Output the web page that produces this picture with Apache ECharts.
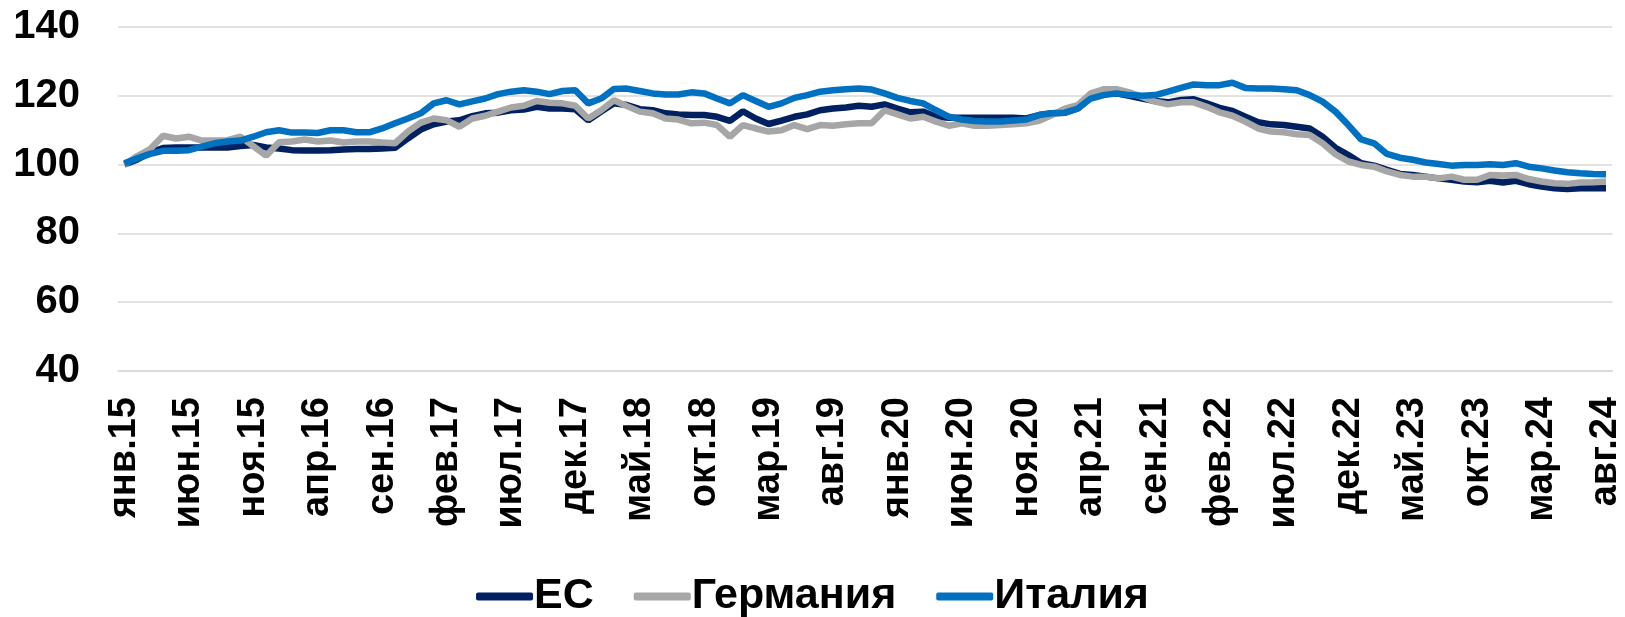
<!DOCTYPE html>
<html>
<head>
<meta charset="utf-8">
<script src="https://cdn.jsdelivr.net/npm/echarts@6/dist/echarts.min.js"></script>
<style>
  html, body { margin: 0; padding: 0; background: #fff; }
  #chart { width: 1625px; height: 617px; }
</style>
</head>
<body>
<div id="chart"></div>
<script>
// месяцы янв.15 - авг.24
const monthNames = ['янв', 'фев', 'мар', 'апр', 'май', 'июн', 'июл', 'авг', 'сен', 'окт', 'ноя', 'дек'];
const categories = [];
for (let y = 15; y <= 24; y++) {
  for (let m = 0; m < 12; m++) {
    if (y === 24 && m > 7) break;
    categories.push(monthNames[m] + '.' + y);
  }
}

const euData = [
  100, 101.5, 103.5, 104.8, 105, 105, 105, 105, 105, 105.4,
  105.7, 105, 104.7, 104.2, 104.1, 104.1, 104.2, 104.4, 104.5, 104.5,
  104.7, 104.9, 107.6, 110.2, 111.7, 112.5, 112.9, 114.1, 114.9, 115.1,
  115.8, 116, 116.8, 116.3, 116.3, 116.1, 112.9, 115.4, 117.8, 117.3,
  116.1, 115.8, 114.9, 114.6, 114.4, 114.4, 113.9, 112.7, 115.5, 113.4,
  111.8, 112.8, 113.9, 114.6, 115.8, 116.3, 116.6, 117.1, 116.8, 117.5,
  116.3, 115.2, 115.4, 113.9, 113.6, 113.6, 113.6, 113.6, 113.6, 113.6,
  113.4, 114.4, 114.9, 115.1, 116.3, 119.5, 120.5, 120.7, 120, 119.2,
  118.5, 118.1, 118.8, 119, 117.8, 116.5, 115.6, 113.9, 112.3, 111.7,
  111.5, 111, 110.5, 108.1, 104.9, 102.8, 100.4, 99.7, 98.5, 97.3,
  97, 96.5, 96, 95.6, 95.1, 94.9, 95.3, 94.8, 95.3, 94.3,
  93.6, 93.1, 92.9, 93.1, 93.1, 93.1
];

const deData = [
  100, 102.5, 104.5, 108.4, 107.6, 108.1, 107, 107, 107.1, 108.1,
  105.4, 102.6, 106.5, 106.7, 107.3, 106.7, 107, 106.4, 106.7, 106.7,
  106.4, 106.2, 109.6, 112.2, 113.4, 112.9, 111, 113.4, 114.2, 115.4,
  116.6, 117.1, 118.5, 118, 117.8, 117.1, 113.4, 115.8, 118.7, 117,
  115.4, 114.9, 113.4, 113.1, 112, 112.2, 111.5, 108.1, 111.5, 110.5,
  109.6, 110, 111.5, 110.3, 111.5, 111.3, 111.7, 112, 112, 115.8,
  114.6, 113.4, 113.9, 112.5, 111.3, 112, 111.3, 111.3, 111.5, 111.7,
  112, 112.7, 114.4, 116.3, 117.3, 120.7, 121.9, 121.9, 121, 119.7,
  118.3, 117.5, 118.1, 118.1, 116.8, 115.2, 114.2, 112.5, 110.5, 109.6,
  109.4, 108.8, 108.6, 106.2, 103, 100.9, 99.9, 99.4, 98, 97,
  96.5, 96.5, 96, 96.5, 95.6, 95.6, 97, 96.8, 97, 95.8,
  95.1, 94.6, 94.4, 94.8, 94.9, 95.1
];

const itData = [
  100.4, 101.8, 103.1, 104, 104, 104.2, 105.2, 106.2, 106.7, 107,
  108.1, 109.4, 110, 109.3, 109.3, 109.2, 110, 110, 109.4, 109.4,
  110.5, 112, 113.4, 114.9, 117.8, 118.7, 117.5, 118.4, 119.2, 120.5,
  121.2, 121.6, 121.2, 120.5, 121.4, 121.6, 117.8, 119.2, 122, 122.1,
  121.4, 120.7, 120.4, 120.4, 121, 120.7, 119.2, 117.8, 120.2, 118.5,
  116.8, 117.8, 119.4, 120.2, 121.2, 121.6, 121.9, 122.1, 121.8, 120.7,
  119.4, 118.5, 117.8, 115.8, 113.9, 113.1, 112.7, 112.5, 112.5, 112.8,
  113.1, 114.4, 114.9, 115.1, 116.3, 119.2, 120.2, 120.7, 120.2, 120,
  120.2, 121.2, 122.3, 123.3, 123.1, 123.1, 123.8, 122.3, 122.1, 122.1,
  121.9, 121.6, 120.2, 118.3, 115.4, 111.5, 107.3, 106.2, 103.1, 102,
  101.4, 100.6, 100.2, 99.7, 99.9, 99.9, 100.1, 99.9, 100.4, 99.4,
  98.9, 98.3, 97.8, 97.5, 97.3, 97.2
];

const yTicks = { min: 40, max: 140, interval: 20 };
const font = '"Liberation Sans", Arial, sans-serif';

const chart = echarts.init(document.getElementById('chart'));
chart.setOption({
  animation: false,
  grid: { left: 118, right: 12, top: 27, bottom: 246, containLabel: false },
  legend: {
    top: 570,
    left: 'center',
    icon: 'roundRect',
    itemWidth: 57,
    itemHeight: 8,
    itemGap: 40,
    textStyle: { fontFamily: font, fontWeight: 'bold', fontSize: 43, color: '#000', padding: [0, 0, 0, -4] },
    data: ['ЕС', 'Германия', 'Италия']
  },
  xAxis: {
    type: 'category',
    data: categories,
    boundaryGap: true,
    axisLine: { lineStyle: { color: '#D9D9D9', width: 1.5 } },
    axisTick: { interval: 4, length: 12, lineStyle: { color: '#D9D9D9', width: 1.5 } },
    axisLabel: {
      interval: 4,
      rotate: 90,
      margin: 26,
      fontFamily: font,
      fontWeight: 'bold',
      fontSize: 38,
      color: '#000'
    },
    splitLine: { show: false }
  },
  yAxis: {
    type: 'value',
    min: yTicks.min,
    max: yTicks.max,
    interval: yTicks.interval,
    axisLine: { show: false },
    axisTick: { show: false },
    axisLabel: { margin: 38, fontFamily: font, fontWeight: 'bold', fontSize: 40, color: '#000' },
    splitLine: { lineStyle: { color: '#D9D9D9', width: 1.5 } }
  },
  series: [
    { name: 'ЕС', type: 'line', data: euData, showSymbol: false, symbol: 'none',
      lineStyle: { color: '#002060', width: 6.5 }, itemStyle: { color: '#002060' } },
    { name: 'Германия', type: 'line', data: deData, showSymbol: false, symbol: 'none',
      lineStyle: { color: '#A6A6A6', width: 6.5 }, itemStyle: { color: '#A6A6A6' } },
    { name: 'Италия', type: 'line', data: itData, showSymbol: false, symbol: 'none',
      lineStyle: { color: '#0070C0', width: 6.5 }, itemStyle: { color: '#0070C0' } }
  ]
});
</script>
</body>
</html>
